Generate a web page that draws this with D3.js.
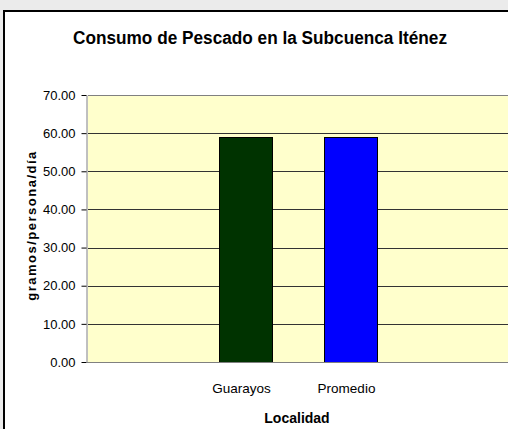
<!DOCTYPE html>
<html>
<head>
<meta charset="utf-8">
<title>Consumo de Pescado</title>
<script src="https://d3js.org/d3.v7.min.js"></script>
<style>
  body { margin: 0; background: #ebebeb; }
  svg { display: block; }
</style>
</head>
<body>
<div id="chart"></div>
<script>
// datos
const categorias = ["", "Guarayos", "Promedio", ""];
const valores = [null, 59.1, 59.1, null];
const colores = [null, "#003300", "#0000ff", null];
const ticksY = [0, 10, 20, 30, 40, 50, 60, 70];

const W = 508, H = 429;
const margin = {top: 95, right: 0, bottom: 67, left: 88};
const w = W - margin.left - margin.right;
const h = H - margin.top - margin.bottom;
const fuente = "Liberation Sans, Arial, sans-serif";

const svg = d3.select("#chart").append("svg")
    .attr("width", W).attr("height", H);

// fondo del gráfico
svg.append("rect")
    .attr("x", 4).attr("y", 11).attr("width", W).attr("height", H)
    .attr("fill", "#fff").attr("stroke", "#000").attr("stroke-width", 2);

svg.append("text")
    .attr("x", 260).attr("y", 44)
    .attr("text-anchor", "middle")
    .attr("font-family", fuente)
    .attr("font-size", "17.5px").attr("font-weight", "bold")
    .attr("textLength", 374).attr("lengthAdjust", "spacingAndGlyphs")
    .text("Consumo de Pescado en la Subcuenca Iténez");

const g = svg.append("g")
    .attr("transform", "translate(" + margin.left + "," + margin.top + ")");

const x = d3.scaleBand().domain(d3.range(categorias.length)).range([0, w])
    .paddingInner(0.5).paddingOuter(0.25);
const y = d3.scaleLinear().domain([0, 70]).range([h, 0]);

g.append("rect")
    .attr("width", w).attr("height", h)
    .attr("fill", "#ffffcc");

g.selectAll(".grid").data(ticksY.filter(d => d > 0)).enter()
    .append("line")
    .attr("x1", 0).attr("x2", w)
    .attr("y1", d => Math.round(y(d)) + 0.5).attr("y2", d => Math.round(y(d)) + 0.5)
    .attr("stroke", d => d === 70 ? "#808080" : "#333").attr("stroke-width", 1);

g.selectAll(".bar").data(valores.map((v, i) => ({v, i})).filter(d => d.v != null)).enter()
    .append("rect")
    .attr("x", d => Math.round(x(d.i)) + 0.5)
    .attr("width", Math.round(x.bandwidth()))
    .attr("y", d => Math.round(y(d.v)) + 0.5)
    .attr("height", d => Math.round(h - y(d.v)))
    .attr("fill", d => colores[d.i])
    .attr("stroke", "#000").attr("stroke-width", 1);

// eje y
const yAxis = d3.axisLeft(y).tickValues(ticksY).tickSize(5).tickSizeOuter(0)
    .tickFormat(d3.format(".2f")).tickPadding(6);
const gy = g.append("g").attr("transform", "translate(-1.5,0)").call(yAxis);
gy.select(".domain").attr("stroke", "#808080");
gy.selectAll("text").attr("font-family", fuente)
    .attr("font-size", "13px").attr("fill", "#000");

// eje x
g.append("line")
    .attr("x1", -1).attr("x2", w).attr("y1", h + 0.5).attr("y2", h + 0.5)
    .attr("stroke", "#808080");

g.selectAll(".xlabel").data(categorias.map((c, i) => ({c, i})).filter(d => d.c)).enter()
    .append("text")
    .attr("x", d => x(d.i) + x.bandwidth() / 2 - 4)
    .attr("y", h + 31)
    .attr("text-anchor", "middle")
    .attr("font-family", fuente)
    .attr("font-size", "13.5px")
    .text(d => d.c);

g.append("text")
    .attr("x", w / 2 - 1).attr("y", h + 61)
    .attr("text-anchor", "middle")
    .attr("font-family", fuente)
    .attr("font-size", "14px").attr("font-weight", "bold")
    .text("Localidad");

svg.append("text")
    .attr("transform", "translate(36," + (margin.top + h / 2 - 3) + ") rotate(-90)")
    .attr("text-anchor", "middle")
    .attr("font-family", fuente)
    .attr("font-size", "13px").attr("font-weight", "bold")
    .attr("letter-spacing", "1.5px")
    .text("gramos/persona/día");
</script>
</body>
</html>
